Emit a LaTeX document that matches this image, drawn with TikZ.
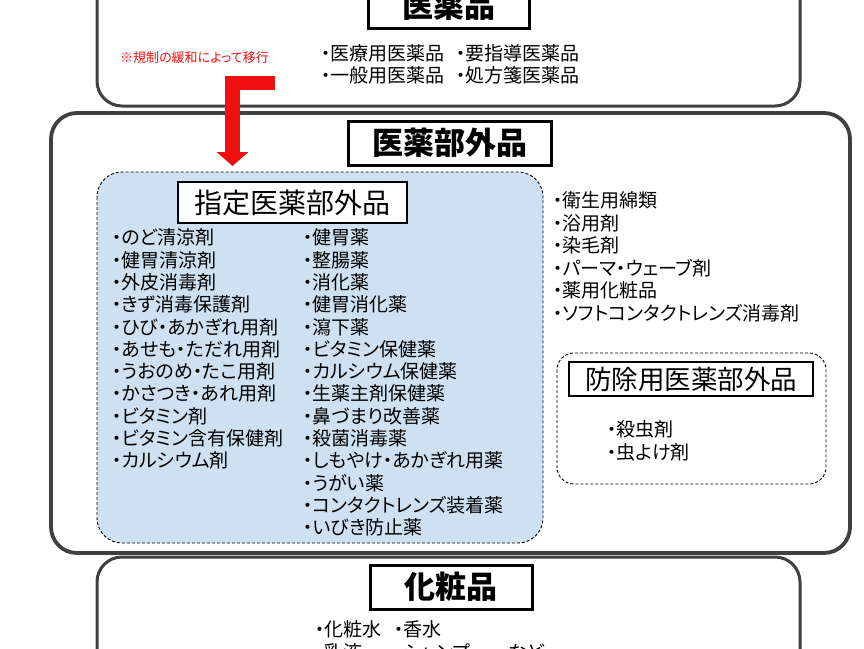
\documentclass[tikz,border=0pt]{standalone}
\usepackage{fontspec}
\setmainfont{Noto Sans CJK JP}[RawFeature=+palt]
\usetikzlibrary{arrows.meta}
\definecolor{boxgray}{RGB}{64,64,64}
\definecolor{paleblue}{RGB}{206,225,242}
\definecolor{notered}{RGB}{240,15,15}
\tikzset{
  bigbox/.style={draw=boxgray, line width=3pt, rounded corners=25pt, fill=white},
  midbox/.style={draw=boxgray, line width=3.8pt, rounded corners=26pt, fill=white},
  bluebox/.style={draw=black, line width=0.9pt, dash pattern=on 3pt off 2pt, rounded corners=25pt, fill=paleblue},
  dashbox/.style={draw=black, line width=0.9pt, dash pattern=on 3pt off 2pt, rounded corners=17pt},
  bigtitle/.style={draw=black, line width=3pt, fill=white, inner sep=0pt, font=\fontsize{31}{31}\selectfont\bfseries},
  subtitle/.style={draw=black, line width=1.3pt, fill=white, inner sep=0pt},
  item/.style={anchor=west, inner sep=0pt, yshift=-2.5pt, text height=0.88em, text depth=0.12em, font=\fontsize{19}{22}\selectfont},
  redtext/.style={anchor=west, inner sep=0pt, text=notered, font=\fontsize{13}{13}\selectfont},
}
\begin{document}
\begin{tikzpicture}[x=1pt, y=-1pt]
\useasboundingbox (0,0) rectangle (864,648);
\clip (0,0) rectangle (864,648);
\fill[white] (0,0) rectangle (864,648);

% containers
\draw[bigbox] (97,-80) rectangle (800,106);
\draw[midbox] (51,113) rectangle (850,553);
\draw[bigbox] (97,557) rectangle (800,760);
\draw[bluebox] (97,172) rectangle (543,543);
\draw[dashbox] (557,353) rectangle (826,484);

% titles
\node[bigtitle, minimum width=161pt, minimum height=44pt] (iyaku) at (448.5,6) {医薬品};
\node[bigtitle, minimum width=203pt, minimum height=44pt] (bugai) at (449.5,143) {医薬部外品};
\node[bigtitle, minimum width=162pt, minimum height=44pt] (kesho) at (451,587) {化粧品};
\node[subtitle, minimum width=229pt, minimum height=41pt, font=\fontsize{28}{28}\selectfont] (shitei) at (292.5,202.5) {指定医薬部外品};
\node[subtitle, minimum width=244pt, minimum height=34pt, font=\fontsize{26.5}{27}\selectfont] (bojo) at (691,379) {防除用医薬部外品};

% 医薬品 items
\node[item] (i1) at (321,54) {・医療用医薬品};
\node[item] (i2) at (456,54) {・要指導医薬品};
\node[item] (i3) at (321,76) {・一般用医薬品};
\node[item] (i4) at (456,76) {・処方箋医薬品};

% note and arrow
\node[redtext] (note) at (120,58) {※規制の緩和によって移行};
\coordinate (arS) at (275,83);
\coordinate (arE) at (232.5,166);
\draw[notered, line width=14.5pt, line join=miter, -{Triangle[width=31pt,length=14pt]}] (arS) -| (arE);

% 指定医薬部外品 left column
\foreach \t [count=\i] in {・のど清涼剤,・健胃清涼剤,・外皮消毒剤,・きず消毒保護剤,・ひび・あかぎれ用剤,・あせも・ただれ用剤,・うおのめ・たこ用剤,・かさつき・あれ用剤,・ビタミン剤,・ビタミン含有保健剤,・カルシウム剤}
  \node[item] (a\i) at (112,{238.5+22.3*(\i-1)}) {\t};
% right column
\foreach \t [count=\i] in {・健胃薬,・整腸薬,・消化薬,・健胃消化薬,・瀉下薬,・ビタミン保健薬,・カルシウム保健薬,・生薬主剤保健薬,・鼻づまり改善薬,・殺菌消毒薬,・しもやけ・あかぎれ用薬,・うがい薬,・コンタクトレンズ装着薬,・いびき防止薬}
  \node[item] (b\i) at (303,{238.5+22.3*(\i-1)}) {\t};

% other 医薬部外品
\foreach \t [count=\i] in {・衛生用綿類,・浴用剤,・染毛剤,・パーマ・ウェーブ剤,・薬用化粧品,・ソフトコンタクトレンズ消毒剤}
  \node[item] (c\i) at (553,{201.5+22.5*(\i-1)}) {\t};

% 防除用
\node[item] (d1) at (607,430) {・殺虫剤};
\node[item] (d2) at (607,453) {・虫よけ剤};

% 化粧品 items
\node[item] (k1) at (315,630) {・化粧水};
\node[item] (k2) at (394,630) {・香水};
\node[item] (k3) at (315,653) {・乳液};
\node[item] (k4) at (394,653) {・シャンプー　など};
\end{tikzpicture}
\end{document}
